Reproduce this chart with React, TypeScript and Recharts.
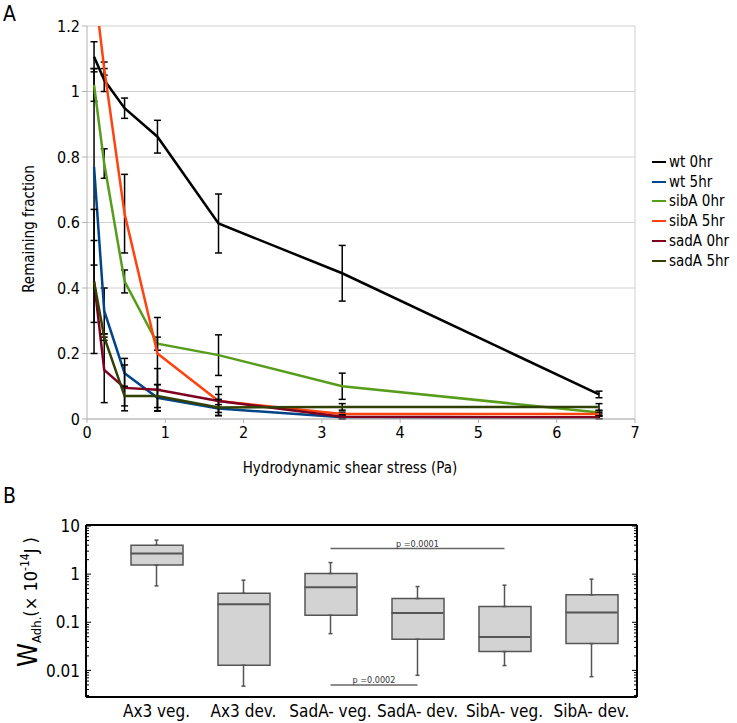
import React from 'react';
import {
  LineChart, Line, XAxis, YAxis, CartesianGrid, ErrorBar, ReferenceLine,
  ComposedChart, Bar, Scatter,
} from 'recharts';

const FONT = "'DejaVu Sans Condensed', 'DejaVu Sans', sans-serif";

// ---- Panel A: remaining fraction vs shear stress ----
const shear = [0.09, 0.22, 0.48, 0.9, 1.68, 3.26, 6.54];

const wt0 = [1.106, 1.035, 0.949, 0.862, 0.597, 0.445, 0.075];
const wt0Err = [0.046, 0.035, 0.031, 0.05, 0.09, 0.085, 0.01];
const wt5 = [0.77, 0.33, 0.14, 0.065, 0.032, 0.005, 0.005];
const wt5Err = [0.3, 0.07, 0.045, 0.04, 0.012, 0.005, 0.004];
const sib0 = [1.02, 0.78, 0.42, 0.23, 0.195, 0.1, 0.02];
const sib0Err = [0.05, 0.045, 0.035, 0.02, 0.062, 0.04, 0.005];
const sib5 = [1.33, 1.07, 0.627, 0.2, 0.055, 0.015, 0.015];
const sib5Err = [0, 0.02, 0.12, 0.11, 0.044, 0.006, 0.005];
const sad0 = [0.42, 0.15, 0.095, 0.089, 0.055, 0.007, 0.005];
const sad0Err = [0.22, 0.1, 0.07, 0.065, 0.02, 0.006, 0.004];
const sad5 = [0.42, 0.25, 0.07, 0.07, 0.035, 0.037, 0.037];
const sad5Err = [0.125, 0.01, 0.03, 0.035, 0.025, 0.01, 0.01];

const xTicksA = [0, 1, 2, 3, 4, 5, 6, 7];
const yTicksA = [0, 0.2, 0.4, 0.6, 0.8, 1, 1.2];

const seriesA = [
  { key: 'wt0', name: 'wt 0hr', color: '#000000', values: wt0, errs: wt0Err },
  { key: 'wt5', name: 'wt 5hr', color: '#004586', values: wt5, errs: wt5Err },
  { key: 'sib0', name: 'sibA 0hr', color: '#579d1c', values: sib0, errs: sib0Err },
  { key: 'sib5', name: 'sibA 5hr', color: '#ff420e', values: sib5, errs: sib5Err },
  { key: 'sad0', name: 'sadA 0hr', color: '#7e0021', values: sad0, errs: sad0Err },
  { key: 'sad5', name: 'sadA 5hr', color: '#314004', values: sad5, errs: sad5Err },
];

const dataA = shear.map((x, i) => {
  const row: any = { x };
  seriesA.forEach((s) => {
    row[s.key] = s.values[i];
    row[s.key + 'Err'] = s.errs[i];
  });
  return row;
});

// ---- Panel B: adhesion work box plots ----
const strains = ['Ax3 veg.', 'Ax3 dev.', 'SadA- veg.', 'SadA- dev.', 'SibA- veg.', 'SibA- dev.'];
const wMin = [0.57, 0.0047, 0.058, 0.0079, 0.0126, 0.0074];
const wQ1 = [1.54, 0.0128, 0.14, 0.0445, 0.0246, 0.036];
const wMed = [2.68, 0.238, 0.537, 0.155, 0.0497, 0.159];
const wQ3 = [4.0, 0.4, 1.03, 0.311, 0.212, 0.371];
const wMax = [5.09, 0.75, 1.74, 0.552, 0.59, 0.787];

const decades = [0.01, 0.1, 1, 10];
const decadeLabels = ['0.01', '0.1', '1', '10'];
const domainB: [number, number] = [0.0028, 10.5];
const minorTicks = [0.001, 0.01, 0.1, 1]
  .flatMap((d) => [2, 3, 4, 5, 6, 7, 8, 9].map((k) => k * d))
  .filter((v) => v >= domainB[0] && v <= domainB[1]);
const allTicksB = [...decades, ...minorTicks];

const dataB = strains.map((name, i) => ({
  name,
  box: [wQ1[i], wQ3[i]],
  q1: wQ1[i],
  q3: wQ3[i],
  med: wMed[i],
  upErr: [0, wMax[i] - wQ3[i]],
  loErr: [wQ1[i] - wMin[i], 0],
}));

const isDecade = (v: number) => decades.some((d) => Math.abs(v - d) < d * 1e-6);

const LeftLogTick = (props: any) => {
  const { x, y, payload } = props;
  const v = payload.value;
  const major = isDecade(v);
  const idx = decades.findIndex((d) => Math.abs(v - d) < d * 1e-6);
  return (
    <g>
      <line x1={x} x2={x + (major ? 5 : 3)} y1={y} y2={y} stroke="#000" strokeWidth={1} />
      {major && (
        <text x={x - 6} y={y} dy="0.36em" textAnchor="end" fontSize={17} fontFamily={FONT} fill="#000">
          {decadeLabels[idx]}
        </text>
      )}
    </g>
  );
};

const RightLogTick = (props: any) => {
  const { x, y, payload } = props;
  const major = isDecade(payload.value);
  return <line x1={x} x2={x - (major ? 5 : 3)} y1={y} y2={y} stroke="#000" strokeWidth={1} />;
};

const MedianShape = (props: any) => {
  const { cx, cy } = props;
  return <line x1={cx - 26} x2={cx + 26} y1={cy} y2={cy} stroke="#555" strokeWidth={2} />;
};

const Empty = () => <g />;

export default function App() {
  return (
    <div style={{ position: 'absolute', left: 0, top: 0, width: 737, height: 723, background: '#fff', fontFamily: FONT }}>
      <div style={{ position: 'absolute', left: 3, top: 2, fontSize: 21 }}>A</div>
      <div style={{ position: 'absolute', left: 3, top: 484, fontSize: 21 }}>B</div>

      <div style={{ position: 'absolute', left: 0, top: 0 }}>
        <LineChart width={737} height={480} data={dataA} margin={{ top: 26, right: 102, bottom: 30, left: 0 }}>
          <CartesianGrid vertical={false} stroke="#d0d0d0" />
          <XAxis
            type="number"
            dataKey="x"
            domain={[0, 7]}
            ticks={xTicksA}
            tickSize={4}
            tickMargin={4}
            height={31}
            axisLine={{ stroke: '#b3b3b3' }}
            tickLine={{ stroke: '#b3b3b3' }}
            tick={{ fontSize: 16, fill: '#000', fontFamily: FONT }}
            label={{
              content: () => (
                <text x={350} y={473} textAnchor="middle" fontSize={15} fontFamily={FONT} fill="#000">
                  Hydrodynamic shear stress (Pa)
                </text>
              ),
            }}
          />
          <YAxis
            type="number"
            domain={[0, 1.2]}
            allowDataOverflow
            ticks={yTicksA}
            width={87}
            tickSize={5}
            tickMargin={2}
            axisLine={{ stroke: '#b3b3b3' }}
            tickLine={{ stroke: '#b3b3b3' }}
            tick={{ fontSize: 16, fill: '#000', fontFamily: FONT }}
            label={{
              content: () => (
                <text x={34} y={229} transform="rotate(-90 34 229)" textAnchor="middle" fontSize={15} fontFamily={FONT} fill="#000">
                  Remaining fraction
                </text>
              ),
            }}
          />
          <ReferenceLine x={7} stroke="#d0d0d0" />
          {seriesA.map((s) => (
            <Line
              key={s.key}
              type="linear"
              dataKey={s.key}
              name={s.name}
              stroke={s.color}
              strokeWidth={2.5}
              dot={false}
              isAnimationActive={false}
            >
              <ErrorBar dataKey={s.key + 'Err'} direction="y" width={3.5} stroke="#000" strokeWidth={1.5} />
            </Line>
          ))}
        </LineChart>
      </div>

      <div style={{ position: 'absolute', left: 652, top: 152 }}>
        {seriesA.map((s) => (
          <div key={s.key} style={{ display: 'flex', alignItems: 'center', height: 19.8, fontSize: 15 }}>
            <div style={{ width: 14, height: 2, background: s.color, marginRight: 3, flex: 'none' }} />
            <span>{s.name}</span>
          </div>
        ))}
      </div>

      <div style={{ position: 'absolute', left: 0, top: 480 }}>
        <ComposedChart width={737} height={243} data={dataB} margin={{ top: 45, right: 99, bottom: 0, left: 0 }}>
          <XAxis
            dataKey="name"
            type="category"
            padding={{ left: 27, right: 2 }}
            height={26}
            tickSize={0}
            tickMargin={8}
            axisLine={{ stroke: '#000', strokeWidth: 2 }}
            tickLine={false}
            tick={{ fontSize: 17, fill: '#000', fontFamily: FONT }}
            interval={0}
          />
          <YAxis
            type="number"
            scale="log"
            domain={domainB}
            allowDataOverflow
            ticks={allTicksB}
            interval={0}
            width={86}
            tickSize={0}
            tickMargin={0}
            tickLine={false}
            axisLine={{ stroke: '#000', strokeWidth: 2 }}
            tick={LeftLogTick}
            label={{
              content: () => (
                <text x={37} y={187} transform="rotate(-90 37 187)" fontFamily={FONT} fill="#000">
                  <tspan fontSize={27}>W</tspan>
                  <tspan fontSize={13} dy={4}>Adh.</tspan>
                  <tspan fontSize={18} dy={-4}>(× 10</tspan>
                  <tspan fontSize={12} dy={-8}>-14</tspan>
                  <tspan fontSize={18} dy={8}>J )</tspan>
                </text>
              ),
            }}
          />
          <YAxis
            yAxisId="right"
            orientation="right"
            type="number"
            scale="log"
            domain={domainB}
            allowDataOverflow
            ticks={allTicksB}
            interval={0}
            width={1}
            tickSize={0}
            tickMargin={0}
            tickLine={false}
            axisLine={{ stroke: '#000', strokeWidth: 2 }}
            tick={RightLogTick}
          />
          <ReferenceLine y={domainB[1]} stroke="#000" strokeWidth={2} ifOverflow="visible" />
          <Scatter dataKey="q3" shape={Empty} isAnimationActive={false}>
            <ErrorBar dataKey="upErr" direction="y" width={2} stroke="#555" strokeWidth={1.5} />
          </Scatter>
          <Scatter dataKey="q1" shape={Empty} isAnimationActive={false}>
            <ErrorBar dataKey="loErr" direction="y" width={2} stroke="#555" strokeWidth={1.5} />
          </Scatter>
          <Bar dataKey="box" barSize={52} fill="#d3d3d3" stroke="#555" strokeWidth={1.5} isAnimationActive={false} />
          <Scatter dataKey="med" shape={MedianShape} isAnimationActive={false} />
          <ReferenceLine
            segment={[{ x: 'SadA- veg.', y: 3.4 }, { x: 'SibA- veg.', y: 3.4 }]}
            stroke="#666"
            strokeWidth={1.5}
            label={{ value: 'p =0.0001', position: 'top', offset: 2, fontSize: 9, fill: '#333', fontFamily: FONT }}
          />
          <ReferenceLine
            segment={[{ x: 'SadA- veg.', y: 0.005 }, { x: 'SadA- dev.', y: 0.005 }]}
            stroke="#666"
            strokeWidth={1.5}
            label={{ value: 'p =0.0002', position: 'top', offset: 2, fontSize: 9, fill: '#333', fontFamily: FONT }}
          />
        </ComposedChart>
      </div>
    </div>
  );
}
